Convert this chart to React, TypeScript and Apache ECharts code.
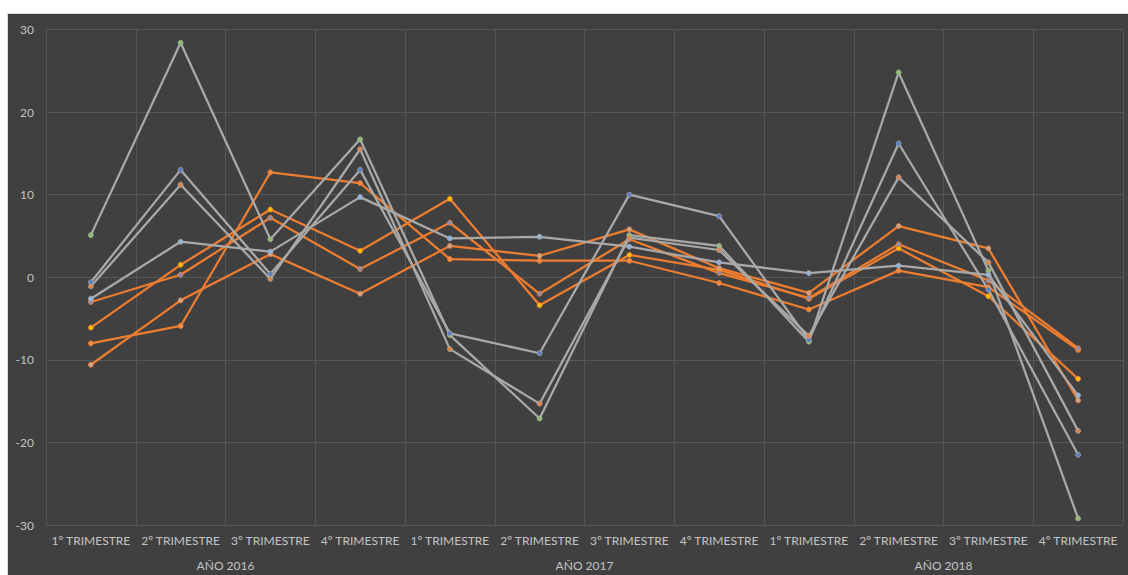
import React, { useEffect, useRef } from "react";
import * as echarts from "echarts";

const quarters = [
  "1º TRIMESTRE", "2º TRIMESTRE", "3º TRIMESTRE", "4º TRIMESTRE",
  "1º TRIMESTRE", "2º TRIMESTRE", "3º TRIMESTRE", "4º TRIMESTRE",
  "1º TRIMESTRE", "2º TRIMESTRE", "3º TRIMESTRE", "4º TRIMESTRE",
];
const years = ["AÑO 2016", "AÑO 2017", "AÑO 2018"];

const yMin = -30;
const yMax = 30;
const yStep = 10;

// gray lines
const grayGreen = [5.1, 28.4, 4.6, 16.7, -7.0, -17.1, 5.1, 3.8, -7.8, 24.8, 0.8, -29.2];
const grayBlue = [-0.6, 13.0, 0.4, 13.0, -6.8, -9.2, 10.0, 7.4, -7.6, 16.2, -1.5, -21.5];
const grayOrange = [-1.1, 11.2, -0.2, 15.5, -8.7, -15.3, 4.8, 3.3, -7.1, 12.1, 1.8, -18.6];
const grayLightBlue = [-2.6, 4.3, 3.1, 9.7, 4.7, 4.9, 3.7, 1.8, 0.5, 1.4, 0.3, -14.3];

// orange lines
const orangeA = [-8.0, -5.9, 12.7, 11.4, 2.2, 2.0, 2.0, -0.7, -3.9, 0.8, -1.2, -8.8];
const orangeB = [-6.1, 1.5, 8.2, 3.2, 9.5, -3.4, 2.7, 0.9, -2.6, 3.5, -2.3, -12.3];
const orangeC = [-3.0, 0.3, 7.2, 1.0, 6.6, -2.0, 4.6, 0.5, -2.5, 4.0, -0.4, -8.6];
const orangeD = [-10.6, -2.8, 2.8, -2.0, 3.8, 2.6, 5.8, 1.1, -1.9, 6.2, 3.5, -14.9];

const GRAY = "#A9A9A9";
const ORANGE = "#ED7D31";

const seriesDefs = [
  { name: "S5", data: orangeA, line: ORANGE, marker: "#F08A45" },
  { name: "S6", data: orangeB, line: ORANGE, marker: "#FFC000" },
  { name: "S7", data: orangeC, line: ORANGE, marker: "#8C8FB0" },
  { name: "S8", data: orangeD, line: ORANGE, marker: "#C9A68E" },
  { name: "S1", data: grayGreen, line: GRAY, marker: "#8FBF6E" },
  { name: "S2", data: grayBlue, line: GRAY, marker: "#5B7FC4" },
  { name: "S3", data: grayOrange, line: GRAY, marker: "#E0854A" },
  { name: "S4", data: grayLightBlue, line: GRAY, marker: "#8FB4DC" },
];

export default function App() {
  const ref = useRef<HTMLDivElement>(null);

  useEffect(() => {
    if (!ref.current) return;
    const chart = echarts.init(ref.current, undefined, { renderer: "svg" });
    const font = "Lato, 'Noto Sans', sans-serif";
    chart.setOption({
      animation: false,
      backgroundColor: "#404040",
      textStyle: { fontFamily: font },
      grid: { left: 38, right: 5, top: 15.5, bottom: 50, containLabel: false },
      xAxis: [
        {
          type: "category",
          data: quarters,
          boundaryGap: true,
          position: "bottom",
          axisLine: { show: false },
          axisTick: { show: false },
          axisLabel: { interval: 0, color: "#C4C4C4", fontSize: 12, margin: 9, fontFamily: font },
          splitLine: { show: true, interval: 0, lineStyle: { color: "#565656", width: 1 } },
        },
        {
          type: "category",
          data: years,
          boundaryGap: true,
          position: "bottom",
          offset: 25,
          axisLine: { show: false },
          axisTick: { show: false },
          axisLabel: { interval: 0, color: "#C4C4C4", fontSize: 12, margin: 9, fontFamily: font },
          splitLine: { show: false },
        },
      ],
      yAxis: {
        type: "value",
        min: yMin,
        max: yMax,
        interval: yStep,
        axisLine: { show: false },
        axisTick: { show: false },
        axisLabel: { color: "#C4C4C4", fontSize: 12, margin: 12, fontFamily: font },
        splitLine: { show: true, lineStyle: { color: "#565656", width: 1 } },
      },
      series: seriesDefs.map((s) => ({
        name: s.name,
        type: "line",
        xAxisIndex: 0,
        data: s.data,
        symbol: "circle",
        symbolSize: 5,
        showSymbol: true,
        lineStyle: { color: s.line, width: 2.25 },
        itemStyle: { color: s.marker, borderColor: s.line, borderWidth: 0.75 },
        emphasis: { disabled: true },
      })),
    });
    return () => chart.dispose();
  }, []);

  return (
    <div style={{ position: "fixed", left: 0, top: 0, width: 1128, height: 575, background: "#ffffff", overflow: "hidden" }}>
      <div
        style={{
          position: "absolute",
          left: 7,
          top: 13,
          width: 1121,
          height: 562,
          boxSizing: "border-box",
          borderTop: "1px solid #D9D9D9",
          borderLeft: "1px solid #D9D9D9",
          background: "#404040",
        }}
      >
        <div ref={ref} style={{ width: 1120, height: 561 }} />
      </div>
    </div>
  );
}
